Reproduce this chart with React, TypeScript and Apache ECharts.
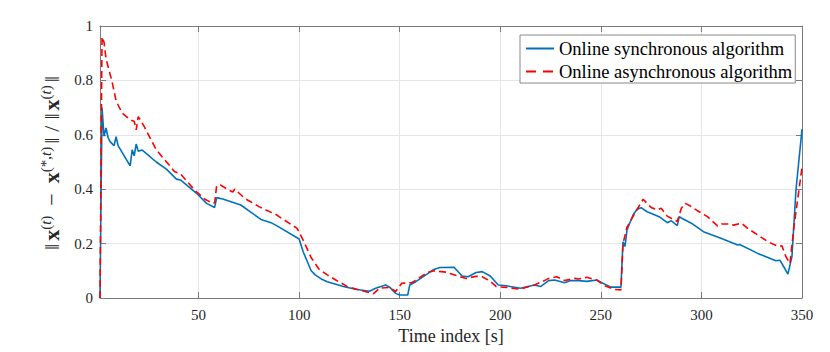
import React, { useEffect, useRef } from "react";
import * as echarts from "echarts";

const xTicks = [50, 100, 150, 200, 250, 300, 350];
const yTicks = [0, 0.2, 0.4, 0.6, 0.8, 1];
const seriesNames = ["Online synchronous algorithm", "Online asynchronous algorithm"];
const xLabel = "Time index [s]";
const yLabelRich =
  "{n|‖}{b|x}{s|(}{si|t}{s|)}{m|−}{b|x}{s|(*,}{si|t}{s|)}{n|‖}{d|/}{n|‖}{b|x}{s|(}{si|t}{s|)}{n|‖}";

const syncData: [number, number][] = [
  [1, 0], [2, 0.70], [3, 0.595], [4, 0.625], [5, 0.59], [6, 0.575], [8, 0.56], [9, 0.593], [10, 0.56],
  [16, 0.486], [17, 0.545], [18, 0.523], [19, 0.566], [20, 0.54], [22, 0.544], [29, 0.5], [34, 0.474],
  [39, 0.437], [41, 0.434], [49, 0.385], [54, 0.348], [58, 0.333], [59, 0.369], [62, 0.364], [71, 0.342],
  [81, 0.289], [86, 0.277], [89, 0.265], [100, 0.217], [102, 0.17], [104, 0.135], [106, 0.1], [108, 0.085],
  [111, 0.07], [114, 0.06], [117, 0.053], [122, 0.042], [128, 0.032], [135, 0.025], [138, 0.036],
  [143, 0.048], [145, 0.04], [148, 0.017], [150, 0.011], [154, 0.011], [155, 0.048], [158, 0.06],
  [163, 0.085], [167, 0.105], [170, 0.112], [177, 0.113], [181, 0.081], [184, 0.078], [188, 0.094],
  [191, 0.097], [195, 0.081], [199, 0.048], [203, 0.045], [205, 0.042], [210, 0.036], [217, 0.048],
  [220, 0.042], [224, 0.064], [227, 0.066], [232, 0.056], [235, 0.064], [239, 0.064], [243, 0.061],
  [248, 0.066], [251, 0.054], [255, 0.04], [260, 0.04], [261, 0.207], [262, 0.19], [263, 0.25],
  [266, 0.305], [268, 0.326], [270, 0.332], [273, 0.317], [279, 0.299], [283, 0.277], [285, 0.284],
  [288, 0.266], [289, 0.299], [290, 0.294], [295, 0.275], [301, 0.244], [310, 0.219], [318, 0.195],
  [319, 0.197], [328, 0.164], [337, 0.137], [339, 0.139], [341, 0.114], [343, 0.088], [345, 0.152],
  [347, 0.397], [350, 0.62],
];

const asyncData: [number, number][] = [
  [1, 0], [2, 0.96], [3, 0.94], [4, 0.88], [7, 0.795], [9, 0.725], [12, 0.68], [16, 0.655], [18, 0.65],
  [19, 0.618], [20, 0.667], [23, 0.63], [29, 0.545], [38, 0.465], [41, 0.456], [48, 0.397], [53, 0.364],
  [57, 0.348], [58, 0.35], [59, 0.413], [61, 0.415], [65, 0.397], [67, 0.39], [68, 0.4], [73, 0.366],
  [78, 0.345], [80, 0.336], [89, 0.305], [90, 0.299], [99, 0.256], [102, 0.213], [106, 0.148],
  [110, 0.105], [114, 0.085], [118, 0.067], [124, 0.042], [131, 0.027], [137, 0.016], [140, 0.036],
  [145, 0.039], [148, 0.024], [151, 0.054], [156, 0.056], [159, 0.07], [160, 0.076], [164, 0.094],
  [167, 0.1], [173, 0.095], [175, 0.09], [180, 0.078], [183, 0.072], [188, 0.08], [191, 0.078],
  [195, 0.062], [198, 0.042], [203, 0.039], [207, 0.035], [210, 0.033], [217, 0.048], [222, 0.064],
  [224, 0.072], [228, 0.078], [232, 0.064], [237, 0.072], [239, 0.07], [243, 0.076], [248, 0.066],
  [252, 0.045], [257, 0.031], [260, 0.03], [261, 0.2], [263, 0.26], [266, 0.3], [271, 0.363],
  [275, 0.333], [278, 0.324], [280, 0.33], [283, 0.301], [288, 0.281], [290, 0.33], [292, 0.348],
  [295, 0.336], [298, 0.321], [303, 0.299], [308, 0.265], [310, 0.272], [314, 0.272], [316, 0.268],
  [320, 0.275], [323, 0.256], [328, 0.232], [333, 0.207], [338, 0.19], [340, 0.192], [342, 0.152],
  [344, 0.127], [346, 0.262], [350, 0.48],
];

const FONT = "'Liberation Serif', 'DejaVu Serif', serif";
const AXIS_COLOR = "#7a7a7a";
const GRID_COLOR = "#e6e6e6";
const TEXT_COLOR = "#262626";

export default function App() {
  const ref = useRef<HTMLDivElement>(null);
  useEffect(() => {
    if (!ref.current) return;
    const chart = echarts.init(ref.current, undefined, { renderer: "svg" });
    const tickCommon = { inside: true, length: 6, lineStyle: { color: AXIS_COLOR, width: 1 } };
    chart.setOption({
      animation: false,
      textStyle: { fontFamily: FONT },
      grid: { left: 100, right: 28, top: 26, bottom: 54, containLabel: false },
      legend: {
        orient: "vertical",
        left: 520,
        top: 35,
        data: [
          { name: seriesNames[0] },
          { name: seriesNames[1], lineStyle: { type: [10, 7] } },
        ],
        itemWidth: 28,
        itemHeight: 14,
        itemGap: 4,
        padding: [4, 3, 2, 5],
        borderColor: "#888",
        borderWidth: 1,
        backgroundColor: "#fff",
        itemStyle: { opacity: 0 },
        textStyle: { fontFamily: FONT, fontSize: 18.5, color: "#000" },
      },
      graphic: [
        {
          type: "text",
          x: 51,
          y: 163,
          rotation: Math.PI / 2,
          style: {
            text: yLabelRich,
            align: "center",
            verticalAlign: "middle",
            fontFamily: FONT,
            fontSize: 22,
            fill: TEXT_COLOR,
            rich: {
              n: { fontSize: 22, lineHeight: 26, padding: [0, 3], fontFamily: FONT, fill: TEXT_COLOR },
              m: { fontSize: 22, lineHeight: 26, padding: [0, 10], fontFamily: FONT, fill: TEXT_COLOR },
              d: { fontSize: 22, lineHeight: 26, padding: [0, 3], fontFamily: FONT, fill: TEXT_COLOR },
              b: { fontSize: 22, lineHeight: 26, fontWeight: "bold", fontFamily: FONT, fill: TEXT_COLOR },
              s: { fontSize: 15, lineHeight: 16, verticalAlign: "top", fontFamily: FONT, fill: TEXT_COLOR },
              si: { fontSize: 15, lineHeight: 16, verticalAlign: "top", fontStyle: "italic", fontFamily: FONT, fill: TEXT_COLOR },
            },
          },
        },
      ],
      xAxis: [
        {
          type: "value",
          min: 1,
          max: 350,
          position: "bottom",
          axisLine: { show: true, onZero: false, lineStyle: { color: AXIS_COLOR } },
          axisTick: { ...tickCommon, customValues: xTicks },
          axisLabel: { customValues: xTicks, fontSize: 15, color: TEXT_COLOR, margin: 9, fontFamily: FONT },
          splitLine: { show: true, lineStyle: { color: GRID_COLOR } },
          name: xLabel,
          nameLocation: "middle",
          nameGap: 19,
          nameTextStyle: { fontSize: 18, color: TEXT_COLOR, fontFamily: FONT },
        },
        {
          type: "value",
          min: 1,
          max: 350,
          position: "top",
          axisLine: { show: true, onZero: false, lineStyle: { color: AXIS_COLOR } },
          axisTick: { ...tickCommon, customValues: xTicks },
          axisLabel: { show: false, customValues: xTicks },
          splitLine: { show: false },
        },
      ],
      yAxis: [
        {
          type: "value",
          min: yTicks[0],
          max: yTicks[yTicks.length - 1],
          interval: 0.2,
          position: "left",
          axisLine: { show: true, onZero: false, lineStyle: { color: AXIS_COLOR } },
          axisTick: tickCommon,
          axisLabel: { fontSize: 15, color: TEXT_COLOR, margin: 7, fontFamily: FONT },
          splitLine: { show: true, lineStyle: { color: GRID_COLOR } },
        },
        {
          type: "value",
          min: yTicks[0],
          max: yTicks[yTicks.length - 1],
          interval: 0.2,
          position: "right",
          axisLine: { show: true, onZero: false, lineStyle: { color: AXIS_COLOR } },
          axisTick: tickCommon,
          axisLabel: { show: false },
          splitLine: { show: false },
        },
      ],
      series: [
        {
          name: seriesNames[0],
          type: "line",
          data: syncData,
          symbol: "none",
          showSymbol: false,
          lineStyle: { color: "#0072BD", width: 1.6 },
          itemStyle: { color: "#0072BD" },
          z: 3,
        },
        {
          name: seriesNames[1],
          type: "line",
          data: asyncData,
          symbol: "none",
          showSymbol: false,
          lineStyle: { color: "#FF0000", width: 1.6, type: [7, 4] },
          itemStyle: { color: "#FF0000" },
          z: 4,
        },
      ],
    });
    return () => chart.dispose();
  }, []);
  return (
    <div
      ref={ref}
      style={{ position: "fixed", left: 0, top: 0, width: 830, height: 352, background: "#fff" }}
    />
  );
}
